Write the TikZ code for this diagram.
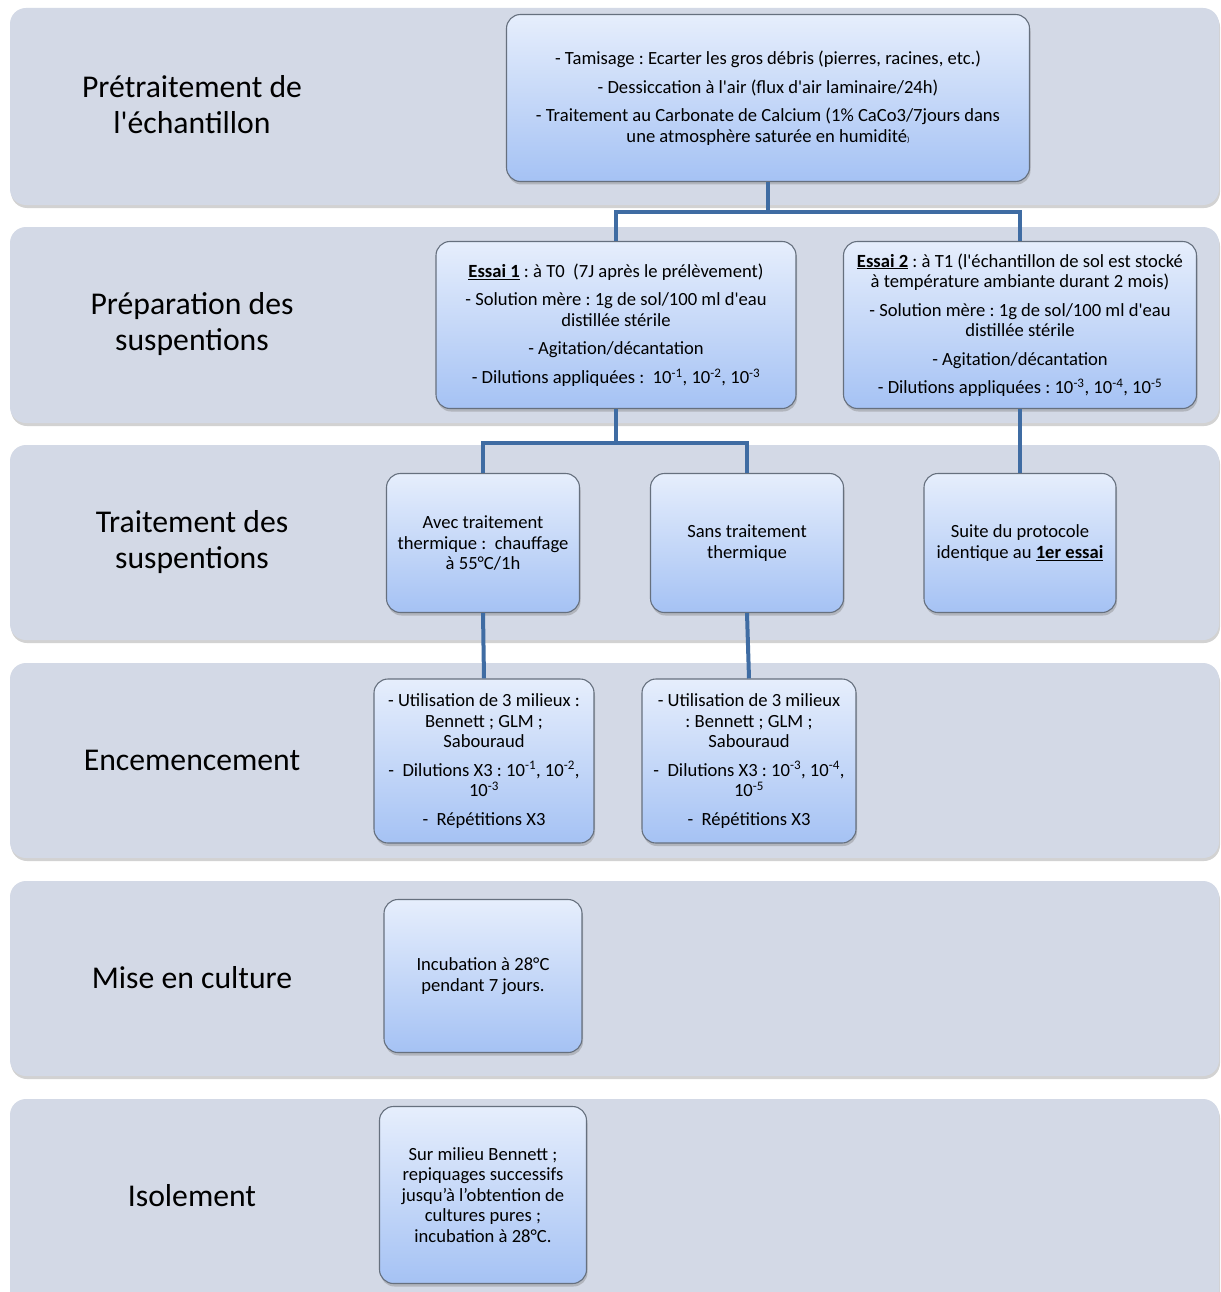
\documentclass[tikz,border=0pt]{standalone}
\usepackage{fontspec}
\setmainfont{Carlito}
\usetikzlibrary{shadows}
\frenchspacing

\definecolor{bandfill}{HTML}{D3D9E6}
\definecolor{boxtop}{HTML}{E6EEFC}
\definecolor{boxbot}{HTML}{A5C2F4}
\definecolor{boxline}{HTML}{66707E}
\definecolor{linkblue}{HTML}{3F6CA3}

\newcommand{\boxfont}{\fontsize{18.6}{20.5}\selectfont}
\newcommand{\bandfont}{\fontsize{31.7}{36}\selectfont}
\newcommand{\sx}[1]{\textsuperscript{#1}}
\newcommand{\ap}{\textquotesingle}

\begin{document}
\begin{tikzpicture}[x=1pt,y=-1pt,
    band/.style={rounded corners=16pt, fill=bandfill,
      drop shadow={opacity=0.35, shadow xshift=1pt, shadow yshift=-3pt}},
    stepbox/.style={rectangle, rounded corners=14pt, draw=boxline, line width=1.1pt,
      top color=boxtop, bottom color=boxbot, align=center, inner sep=0pt,
      font=\boxfont, drop shadow={opacity=0.4, shadow xshift=1pt, shadow yshift=-3pt}},
    bandlabel/.style={align=center, font=\bandfont},
    link/.style={draw=linkblue, line width=4pt}]
  \useasboundingbox (0,0) rectangle (1220,1292);
  \fill[white] (0,0) rectangle (1220,1292);

  % bands
  \fill[band] (10,8) rectangle (1219,205);
  \fill[band] (10,227) rectangle (1219,423);
  \fill[band] (10,445) rectangle (1219,640);
  \fill[band] (10,663) rectangle (1219,858);
  \fill[band] (10,881) rectangle (1219,1076);
  \fill[band] (10,1099) rectangle (1219,1310);

  \node[bandlabel] (lab1) at (192,105) {Prétraitement de\\l\ap échantillon};
  \node[bandlabel] (lab2) at (192,324) {Préparation des\\suspentions};
  \node[bandlabel] (lab3) at (192,542) {Traitement des\\suspentions};
  \node[bandlabel] (lab4) at (192,760) {Encemencement};
  \node[bandlabel] (lab5) at (192,978) {Mise en culture};
  \node[bandlabel] (lab6) at (192,1196) {Isolement};

  % boxes
  \node[stepbox, minimum width=523, minimum height=167] (pretr) at (768,98)
    {- Tamisage : Ecarter les gros débris (pierres, racines, etc.)\\[8pt]
     - Dessiccation à l\ap air (flux d\ap air laminaire/24h)\\[8pt]
     - Traitement au Carbonate de Calcium (1\% CaCo3/7jours dans\\
     une atmosphère saturée en humidité{\footnotesize )}};
  \node[stepbox, minimum width=360, minimum height=167] (essai1) at (616,325)
    {\underline{\textbf{Essai 1}} : à T0~~(7J après le prélèvement)\\[8pt]
     - Solution mère : 1g de sol/100 ml d\ap eau\\
     distillée stérile\\[8pt]
     - Agitation/décantation\\[8pt]
     - Dilutions appliquées :~~10\sx{-1}, 10\sx{-2}, 10\sx{-3}};
  \node[stepbox, minimum width=353, minimum height=167] (essai2) at (1020,325)
    {\underline{\textbf{Essai 2}} : à T1 (l\ap échantillon de sol est stocké\\
     à température ambiante durant 2 mois)\\[8pt]
     - Solution mère : 1g de sol/100 ml d\ap eau\\
     distillée stérile\\[8pt]
     - Agitation/décantation\\[8pt]
     - Dilutions appliquées : 10\sx{-3}, 10\sx{-4}, 10\sx{-5}};
  \node[stepbox, minimum width=193, minimum height=139] (avec) at (483,543)
    {Avec traitement\\thermique :~~chauffage\\à 55°C/1h};
  \node[stepbox, minimum width=193, minimum height=139] (sans) at (747,543)
    {Sans traitement\\thermique};
  \node[stepbox, minimum width=192, minimum height=139] (suite) at (1020,543)
    {Suite du protocole\\identique au \underline{\textbf{1er essai}}};
  \node[stepbox, minimum width=220, minimum height=164] (milieu1) at (484,761)
    {- Utilisation de 3 milieux :\\Bennett ; GLM ;\\Sabouraud\\[8pt]
     -~~Dilutions X3 : 10\sx{-1}, 10\sx{-2},\\10\sx{-3}\\[8pt]
     -~~Répétitions X3};
  \node[stepbox, minimum width=214, minimum height=164] (milieu2) at (749,761)
    {- Utilisation de 3 milieux\\: Bennett ; GLM ;\\Sabouraud\\[8pt]
     -~~Dilutions X3 : 10\sx{-3}, 10\sx{-4},\\10\sx{-5}\\[8pt]
     -~~Répétitions X3};
  \node[stepbox, minimum width=198, minimum height=153] (incub) at (483,976)
    {Incubation à 28°C\\pendant 7 jours.};
  \node[stepbox, minimum width=207, minimum height=177] (isol) at (483,1195)
    {Sur milieu Bennett ;\\repiquages successifs\\jusqu’à l’obtention de\\cultures pures ;\\incubation à 28°C.};

  % connectors
  \coordinate (split1) at (768,212);
  \coordinate (split2) at (616,443);
  \draw[link] (pretr.south) -- (split1) -| (essai1.north);
  \draw[link] (split1) -| (essai2.north);
  \draw[link] (essai1.south) -- (split2) -| (avec.north);
  \draw[link] (split2) -| (sans.north);
  \draw[link] (essai2.south) -- (suite.north);
  \draw[link] (avec.south) -- (milieu1.north);
  \draw[link] (sans.south) -- (milieu2.north);
\end{tikzpicture}
\end{document}
